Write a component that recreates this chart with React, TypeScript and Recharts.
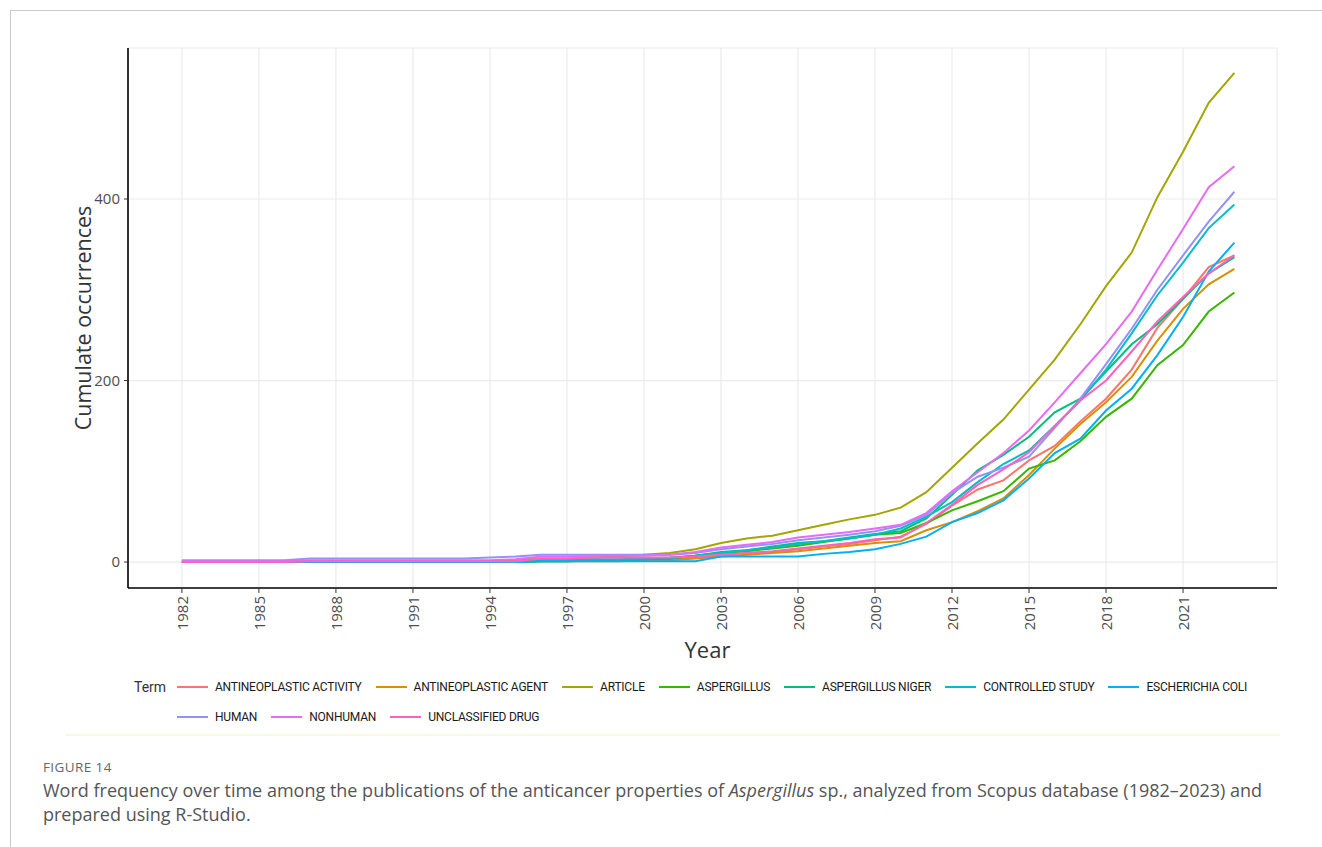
import * as React from 'react';
import { LineChart, Line, XAxis, YAxis, CartesianGrid, Label } from 'recharts';

// Cumulative term occurrences per publication year
const YEARS = [
  1982, 1983, 1984, 1985, 1986, 1987, 1988, 1989, 1990, 1991, 1992, 1993, 1994, 1995,
  1996, 1997, 1998, 1999, 2000, 2001, 2002, 2003, 2004, 2005, 2006, 2007, 2008, 2009,
  2010, 2011, 2012, 2013, 2014, 2015, 2016, 2017, 2018, 2019, 2020, 2021, 2022, 2023,
];

const TERMS = [
  'ANTINEOPLASTIC ACTIVITY',
  'ANTINEOPLASTIC AGENT',
  'ARTICLE',
  'ASPERGILLUS',
  'ASPERGILLUS NIGER',
  'CONTROLLED STUDY',
  'ESCHERICHIA COLI',
  'HUMAN',
  'NONHUMAN',
  'UNCLASSIFIED DRUG',
];

// ggplot default hue palette, one per term
const TERM_COLORS = [
  '#F8766D', '#D89000', '#A3A500', '#39B600', '#00BF7D',
  '#00BFC4', '#00B0F6', '#9590FF', '#E76BF3', '#FF62BC',
];

const ANTINEOPLASTIC_ACTIVITY = [
  0, 0, 0, 0, 0, 1, 1, 1, 1, 1, 1, 1, 1, 1, 2, 2, 2, 2,
  3, 3, 5, 8, 10, 11, 14, 17, 20, 24, 28, 42, 62, 80, 90, 112, 128, 155, 180, 212, 258, 290, 325, 338,
];
const ANTINEOPLASTIC_AGENT = [
  0, 0, 0, 0, 0, 0, 0, 0, 0, 0, 0, 0, 0, 0, 1, 1, 1, 1,
  2, 2, 4, 6, 8, 10, 12, 15, 18, 21, 23, 35, 44, 56, 70, 96, 125, 152, 176, 204, 244, 279, 306, 323,
];
const ARTICLE = [
  0, 0, 0, 0, 0, 1, 1, 1, 1, 1, 1, 1, 1, 2, 4, 4, 5, 6,
  8, 10, 14, 21, 26, 29, 35, 41, 47, 52, 60, 77, 104, 131, 157, 190, 223, 262, 304, 341, 402, 452, 506, 539,
];
const ASPERGILLUS = [
  0, 0, 0, 0, 0, 0, 0, 0, 0, 0, 0, 0, 0, 0, 1, 1, 2, 2,
  3, 4, 7, 10, 12, 15, 18, 22, 26, 30, 32, 43, 57, 67, 78, 103, 112, 133, 160, 180, 217, 239, 276, 297,
];
const ASPERGILLUS_NIGER = [
  0, 0, 0, 0, 0, 0, 0, 0, 0, 0, 0, 0, 0, 0, 1, 1, 2, 2,
  3, 4, 7, 11, 13, 17, 21, 23, 27, 31, 34, 48, 74, 101, 118, 138, 165, 180, 210, 240, 262, 290, 318, 336,
];
const CONTROLLED_STUDY = [
  0, 0, 0, 0, 0, 0, 0, 0, 0, 0, 0, 0, 0, 0, 2, 2, 3, 3,
  4, 5, 7, 10, 13, 16, 20, 23, 26, 30, 37, 50, 66, 88, 108, 123, 150, 178, 212, 252, 294, 330, 368, 394,
];
const ESCHERICHIA_COLI = [
  0, 0, 0, 0, 0, 0, 0, 0, 0, 0, 0, 0, 0, 0, 1, 1, 1, 1,
  1, 1, 1, 6, 6, 6, 6, 9, 11, 14, 20, 28, 44, 54, 68, 92, 120, 136, 167, 191, 228, 270, 320, 352,
];
const HUMAN = [
  2, 2, 2, 2, 2, 4, 4, 4, 4, 4, 4, 4, 5, 6, 8, 8, 8, 8,
  8, 8, 10, 14, 17, 20, 24, 27, 30, 34, 40, 52, 76, 94, 104, 116, 148, 180, 218, 257, 300, 338, 375, 408,
];
const NONHUMAN = [
  1, 1, 1, 1, 1, 2, 2, 2, 2, 2, 2, 2, 2, 3, 6, 6, 7, 7,
  7, 8, 11, 16, 19, 22, 27, 30, 33, 37, 41, 54, 78, 99, 120, 145, 176, 208, 240, 276, 322, 367, 413, 436,
];
const UNCLASSIFIED_DRUG = [
  0, 0, 0, 0, 0, 1, 1, 1, 1, 1, 1, 1, 1, 1, 4, 4, 5, 5,
  5, 5, 6, 8, 10, 12, 15, 18, 21, 25, 27, 43, 63, 85, 102, 121, 150, 178, 200, 232, 265, 292, 318, 338,
];

const SERIES = [
  ANTINEOPLASTIC_ACTIVITY, ANTINEOPLASTIC_AGENT, ARTICLE, ASPERGILLUS, ASPERGILLUS_NIGER,
  CONTROLLED_STUDY, ESCHERICHIA_COLI, HUMAN, NONHUMAN, UNCLASSIFIED_DRUG,
];

const X_TICKS = [1982, 1985, 1988, 1991, 1994, 1997, 2000, 2003, 2006, 2009, 2012, 2015, 2018, 2021];
const Y_TICKS = [0, 200, 400];

const data = YEARS.map((year, i) => {
  const row: Record<string, number> = { year };
  TERMS.forEach((term, k) => {
    row[term] = SERIES[k][i];
  });
  return row;
});

const TICK_FONT = '"Open Sans", sans-serif';

function YearTick({ x, y, payload }: { x?: number; y?: number; payload?: { value: number } }) {
  const ty = (y ?? 0) + 1;
  return (
    <text
      x={x}
      y={ty}
      transform={`rotate(-90, ${x}, ${ty})`}
      textAnchor="end"
      dominantBaseline="central"
      fill="#4d4d4d"
      fontSize={15}
      fontFamily={TICK_FONT}
    >
      {payload?.value}
    </text>
  );
}

function LegendKey({ term, color }: { term: string; color: string }) {
  return (
    <div style={{ display: 'flex', alignItems: 'center', marginRight: 14 }}>
      <svg width={31} height={4} style={{ marginRight: 7 }}>
        <line x1={0} y1={2} x2={31} y2={2} stroke={color} strokeWidth={2} />
      </svg>
      <span style={{ fontFamily: 'Roboto, sans-serif', fontSize: 12, letterSpacing: -0.22, color: '#1a1a1a' }}>
        {term}
      </span>
    </div>
  );
}

function TermLegend() {
  const rows = [TERMS.slice(0, 7), TERMS.slice(7)];
  return (
    <div style={{ position: 'absolute', left: 134, top: 677 }}>
      {rows.map((row, r) => (
        <div key={r} style={{ display: 'flex', alignItems: 'center', height: 20, marginBottom: 10 }}>
          <div style={{ width: 43, fontFamily: 'Roboto, sans-serif', fontSize: 14, color: '#333' }}>
            {r === 0 ? 'Term' : ''}
          </div>
          {row.map((term) => (
            <LegendKey key={term} term={term} color={TERM_COLORS[TERMS.indexOf(term)]} />
          ))}
        </div>
      ))}
    </div>
  );
}

export default function App() {
  return (
    <div style={{ position: 'absolute', left: 0, top: 0, width: 1322, height: 847, background: '#fff', overflow: 'hidden' }}>
      <div
        style={{
          position: 'absolute',
          left: 10,
          top: 10,
          right: 0,
          bottom: 0,
          borderTop: '1px solid #c8c8c8',
          borderLeft: '1px solid #c8c8c8',
        }}
      />
      <div style={{ position: 'absolute', left: 0, top: 0 }}>
        <LineChart width={1322} height={680} data={data} margin={{ top: 48, right: 45, left: 68, bottom: 17 }}>
          <CartesianGrid stroke="#ebebeb" strokeWidth={1.2} />
          <XAxis
            dataKey="year"
            type="number"
            domain={[1979.9, 2024.66]}
            ticks={X_TICKS}
            allowDataOverflow
            interval={0}
            height={75}
            axisLine={{ stroke: '#000', strokeWidth: 1.6 }}
            tickLine={{ stroke: '#333' }}
            tickSize={5}
            tick={<YearTick />}
          >
            <Label
              value="Year"
              position="insideBottom"
              offset={5}
              dx={5}
              style={{ fontFamily: TICK_FONT, fontSize: 22, fill: '#333' }}
            />
          </XAxis>
          <YAxis
            type="number"
            domain={[-28.6, 566.4]}
            ticks={Y_TICKS}
            allowDataOverflow
            width={60}
            axisLine={{ stroke: '#000', strokeWidth: 1.6 }}
            tickLine={{ stroke: '#333' }}
            tickSize={4}
            tickMargin={4}
            tick={{ fill: '#4d4d4d', fontSize: 15, fontFamily: TICK_FONT }}
          >
            <Label
              value="Cumulate occurrences"
              angle={-90}
              position="insideLeft"
              offset={15}
              style={{ fontFamily: TICK_FONT, fontSize: 21.5, fill: '#333', textAnchor: 'middle' }}
            />
          </YAxis>
          {TERMS.map((term, k) => (
            <Line
              key={term}
              type="linear"
              dataKey={term}
              stroke={TERM_COLORS[k]}
              strokeWidth={2}
              dot={false}
              isAnimationActive={false}
            />
          ))}
        </LineChart>
      </div>
      <TermLegend />
      <div style={{ position: 'absolute', left: 65, top: 734, width: 1215, height: 2, background: '#f6fadf' }} />
      <div
        style={{
          position: 'absolute',
          left: 43,
          top: 759,
          fontFamily: TICK_FONT,
          fontSize: 13.5,
          letterSpacing: 0.4,
          lineHeight: '16px',
          color: '#666',
        }}
      >
        FIGURE 14
      </div>
      <div
        style={{
          position: 'absolute',
          left: 43,
          top: 778,
          width: 1270,
          fontFamily: TICK_FONT,
          fontSize: 18,
          lineHeight: '24px',
          color: '#555',
        }}
      >
        Word frequency over time among the publications of the anticancer properties of <i>Aspergillus</i> sp.,
        analyzed from Scopus database (1982–2023) and
        <br />
        prepared using R-Studio.
      </div>
    </div>
  );
}
